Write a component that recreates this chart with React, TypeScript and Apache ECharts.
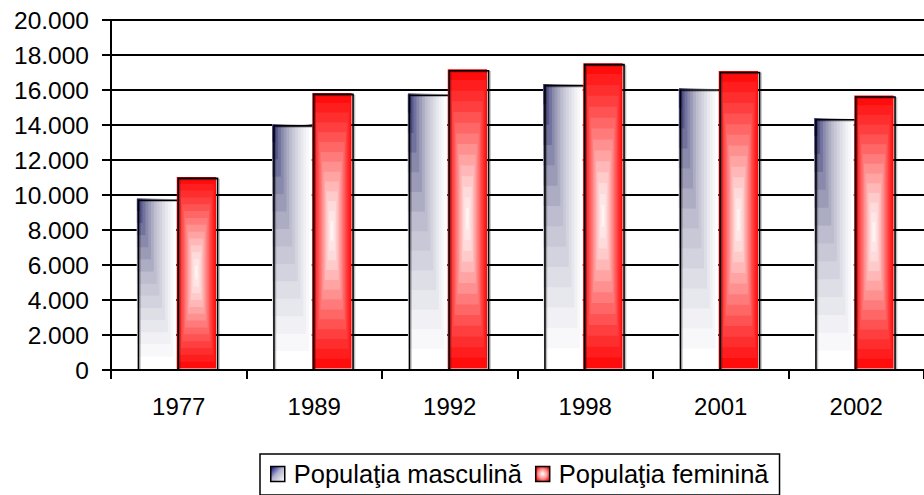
import React, { useEffect, useRef } from "react";
import * as echarts from "echarts";

const years = ["1977", "1989", "1992", "1998", "2001", "2002"];
const maleValues = [9700, 13950, 15700, 16250, 16000, 14300];
const femaleValues = [10950, 15750, 17100, 17450, 17000, 15600];
const seriesNames = ["Populaţia masculină", "Populaţia feminină"];
const yTicks = { min: 0, max: 20000, interval: 2000 };

const FONT = "'Liberation Sans', Arial, sans-serif";

type RGB = [number, number, number];
const hex = (h: string): RGB => [
  parseInt(h.slice(1, 3), 16),
  parseInt(h.slice(3, 5), 16),
  parseInt(h.slice(5, 7), 16),
];
const maleStops: [number, RGB][] = [
  [0, hex("#0a0a70")],
  [0.1, hex("#4c4c88")],
  [0.3, hex("#8e8eae")],
  [0.5, hex("#bdbdcf")],
  [0.7, hex("#dcdce6")],
  [0.85, hex("#f0f0f4")],
  [1, hex("#ffffff")],
];
const femaleStops: [number, RGB][] = [
  [0, hex("#ffffff")],
  [0.25, hex("#ffd4d4")],
  [0.5, hex("#ff9090")],
  [0.75, hex("#ff4848")],
  [1, hex("#ff0c0c")],
];
function colorAt(stops: [number, RGB][], t: number): string {
  for (let i = 1; i < stops.length; i++) {
    if (t <= stops[i][0]) {
      const [t0, c0] = stops[i - 1];
      const [t1, c1] = stops[i];
      const f = (t - t0) / (t1 - t0);
      const c = c0.map((v, k) => Math.round(v + (c1[k] - v) * f));
      return `rgb(${c[0]},${c[1]},${c[2]})`;
    }
  }
  const c = stops[stops.length - 1][1];
  return `rgb(${c[0]},${c[1]},${c[2]})`;
}

const BANDS = 14;

function makeRenderItem(isMale: boolean) {
  return (params: any, api: any) => {
    const idx = api.value(0);
    const val = api.value(1);
    const base = api.coord([idx, 0]);
    const top = api.coord([idx, val]);
    const band = api.size([1, 0])[0];
    const w = band * 0.29;
    const c = base[0];
    const x = isMale ? c - w - 1 : c - 0.5;
    const y = top[1];
    const h = base[1] - top[1];
    const fx = x - 1.5;
    const fy = y - 1.5;
    const children: any[] = [];
    for (let k = 0; k < BANDS; k++) {
      const t = 1 - k / BANDS;
      if (isMale) {
        children.push({
          type: "rect",
          shape: { x: fx, y: fy, width: w * t, height: h * t },
          style: { fill: colorAt(maleStops, t) },
        });
      } else {
        const cx = fx + w * 0.5;
        const cy = fy + h * 0.5;
        children.push({
          type: "rect",
          shape: { x: cx - (w * t) / 2, y: cy - (h * t) / 2, width: w * t, height: h * t },
          style: { fill: colorAt(femaleStops, t) },
        });
      }
    }
    children.push({
      type: "rect",
      shape: { x: x + 1.5, y: y + 1, width: w, height: h - 1 },
      style: { fill: "none", stroke: "rgba(0,0,0,0.25)", lineWidth: 1.5 },
    });
    children.push({
      type: "rect",
      shape: { x, y, width: w, height: h },
      style: { fill: "none", stroke: "#000", lineWidth: 1.6 },
    });
    return { type: "group", children };
  };
}

export default function App() {
  const ref = useRef<HTMLDivElement>(null);
  useEffect(() => {
    document.body.style.margin = "0";
    if (!ref.current) return;
    const chart = echarts.init(ref.current, null, { renderer: "svg" });
    const maleGrad = new echarts.graphic.LinearGradient(0, 0, 1, 1, [
      { offset: 0, color: "#000080" },
      { offset: 0.45, color: "#b0b0cc" },
      { offset: 1, color: "#ffffff" },
    ]);
    const femaleGrad = new echarts.graphic.RadialGradient(0.5, 0.5, 0.6, [
      { offset: 0, color: "#ffffff" },
      { offset: 0.5, color: "#ff9a9a" },
      { offset: 1, color: "#ff0000" },
    ]);
    chart.setOption({
      animation: false,
      backgroundColor: "#ffffff",
      grid: { left: 111, top: 20, right: -11, bottom: 125, containLabel: false },
      xAxis: {
        type: "category",
        data: years,
        boundaryGap: true,
        axisLine: { show: true, lineStyle: { color: "#000", width: 2 } },
        axisTick: { show: true, length: 9, inside: false, lineStyle: { color: "#000", width: 2 } },
        axisLabel: { margin: 24, fontSize: 24, color: "#000", fontFamily: FONT },
        splitLine: { show: false },
      },
      yAxis: {
        type: "value",
        min: yTicks.min,
        max: yTicks.max,
        interval: yTicks.interval,
        axisLine: { show: true, lineStyle: { color: "#000", width: 2 } },
        axisTick: { show: true, length: 9, inside: false, lineStyle: { color: "#000", width: 2 } },
        axisLabel: {
          margin: 22,
          fontSize: 24.5,
          color: "#000",
          fontFamily: FONT,
          formatter: (v: number) => (v === 0 ? "0" : (v / 1000).toFixed(3)),
        },
        splitLine: { show: true, lineStyle: { color: "#000", width: 2 } },
      },
      legend: {
        left: 260,
        top: 454,
        orient: "horizontal",
        padding: [7, 11, 8, 10],
        borderColor: "#000",
        borderWidth: 1.5,
        itemWidth: 14,
        itemHeight: 15,
        itemGap: 13,
        textStyle: { fontSize: 25.5, color: "#000", fontFamily: FONT, padding: [0, 0, 0, 4] },
        data: [
          { name: seriesNames[0], icon: "rect", itemStyle: { color: maleGrad, borderColor: "#000", borderWidth: 1.5 } },
          { name: seriesNames[1], icon: "rect", itemStyle: { color: femaleGrad, borderColor: "#000", borderWidth: 1.5 } },
        ],
      },
      series: [
        {
          name: seriesNames[0],
          type: "custom",
          renderItem: makeRenderItem(true),
          encode: { x: 0, y: 1 },
          itemStyle: { color: maleGrad, borderColor: "#000", borderWidth: 1.5 },
          data: maleValues.map((v, i) => [i, v]),
        },
        {
          name: seriesNames[1],
          type: "custom",
          renderItem: makeRenderItem(false),
          encode: { x: 0, y: 1 },
          itemStyle: { color: femaleGrad, borderColor: "#000", borderWidth: 1.5 },
          data: femaleValues.map((v, i) => [i, v]),
        },
      ],
    });
    return () => chart.dispose();
  }, []);
  return (
    <div
      ref={ref}
      style={{ position: "fixed", left: 0, top: 0, width: 924, height: 495, background: "#fff" }}
    />
  );
}
